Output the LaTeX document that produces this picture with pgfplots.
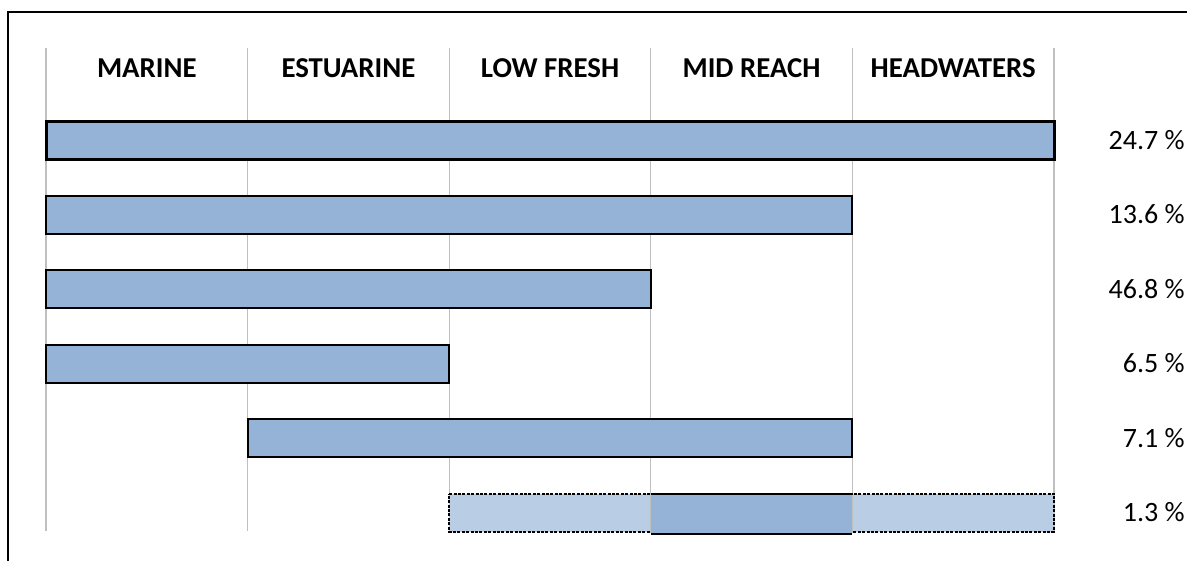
\documentclass[border=0pt]{standalone}
\usepackage{pgfplots}
\pgfplotsset{compat=1.18}
\usepackage{fontspec}
\setmainfont{Carlito}
\definecolor{barblue}{HTML}{95B3D7}
\definecolor{barlight}{HTML}{B9CDE5}
\definecolor{gridgray}{HTML}{BFBFBF}
\begin{document}
\begin{tikzpicture}
\begin{axis}[
  at={(0,0)}, anchor=south west,
  scale only axis, width=504pt, height=241.5pt,
  xmin=0, xmax=5, ymin=-0.235, ymax=6.248, y dir=reverse,
  axis line style={draw=none},
  major tick length=0pt, minor tick length=0pt,
  xtick={0.5,1.5,2.5,3.5,4.5},
  xticklabels={MARINE,ESTUARINE,LOW FRESH,MID REACH,HEADWATERS},
  xticklabel pos=upper,
  xticklabel style={font=\fontsize{14.4}{16}\selectfont\bfseries, anchor=center, yshift=-10pt},
  minor xtick={0,1,2,3,4,5},
  xminorgrids, minor grid style={gridgray, line width=0.6pt},
  ytick={1,2,3,4,5,6},
  yticklabels={24.7 \%,13.6 \%,46.8 \%,6.5 \%,7.1 \%,1.3 \%},
  yticklabel pos=right,
  yticklabel style={font=\fontsize{14}{16}\selectfont, anchor=east, inner sep=0pt, xshift=65.5pt},
  clip=false,
]
% each bar: from start column to end column, row r, bar from r-0.255 to r+0.255
% row 1: MARINE -> HEADWATERS
\addplot[fill=barblue, draw=black, line width=1.5pt] coordinates {(0,0.745) (5,0.745) (5,1.255) (0,1.255)} -- cycle;
% row 2: MARINE -> MID REACH
\addplot[fill=barblue, draw=black, line width=1pt] coordinates {(0,1.745) (4,1.745) (4,2.255) (0,2.255)} -- cycle;
% row 3: MARINE -> LOW FRESH
\addplot[fill=barblue, draw=black, line width=1pt] coordinates {(0,2.745) (3,2.745) (3,3.255) (0,3.255)} -- cycle;
% row 4: MARINE -> ESTUARINE
\addplot[fill=barblue, draw=black, line width=1pt] coordinates {(0,3.745) (2,3.745) (2,4.255) (0,4.255)} -- cycle;
% row 5: ESTUARINE -> MID REACH
\addplot[fill=barblue, draw=black, line width=1pt] coordinates {(1,4.745) (4,4.745) (4,5.255) (1,5.255)} -- cycle;
% row 6: LOW FRESH -> HEADWATERS (uncertain), MID REACH (certain)
\addplot[fill=barlight, draw=black, line width=1pt, dash pattern=on 1.5pt off 0.7pt] coordinates {(2,5.745) (5,5.745) (5,6.255) (2,6.255)} -- cycle;
\addplot[fill=barblue, draw=none] coordinates {(3,5.745) (4,5.745) (4,6.285) (3,6.285)} -- cycle;
\addplot[draw=black, line width=1pt] coordinates {(3,5.745) (4,5.745)};
\addplot[draw=black, line width=1pt] coordinates {(3,6.285) (4,6.285)};
\addplot[draw=gridgray, line width=0.6pt] coordinates {(3,5.76) (3,6.27)};
\addplot[draw=gridgray, line width=0.6pt] coordinates {(4,5.76) (4,6.27)};
\end{axis}
\draw[line width=1pt] (-18.75pt,-20pt) -- (-18.75pt,259.5pt) -- (580pt,259.5pt);
\pgfresetboundingbox
\useasboundingbox (-23pt,-15pt) rectangle (570.5pt,265.5pt);
\end{tikzpicture}
\end{document}
